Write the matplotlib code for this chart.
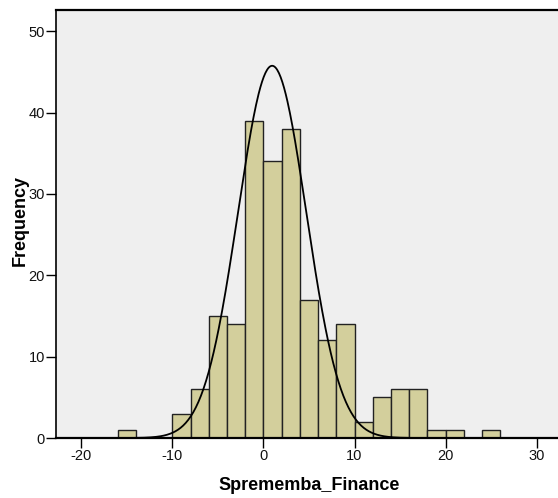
"""SPSS-style histogram of Sprememba_Finance with normal curve."""
import matplotlib

matplotlib.use("Agg")
import matplotlib.pyplot as plt
import numpy as np

plt.rcParams["font.family"] = ["Liberation Sans", "DejaVu Sans"]
plt.rcParams["axes.unicode_minus"] = False

# bin edges (width 2) and counts
bin_left = [-16, -14, -12, -10, -8, -6, -4, -2, 0, 2, 4, 6, 8, 10,
            12, 14, 16, 18, 20, 22, 24]
counts = [1, 0, 0, 3, 6, 15, 14, 39, 34, 38, 17, 12, 14, 2,
          5, 6, 6, 1, 1, 0, 1]
bin_width = 2.0

# normal curve parameters (estimated)
curve_mean = 0.95
curve_sd = 3.75

x_ticks = [-20, -10, 0, 10, 20, 30]
y_ticks = [0, 10, 20, 30, 40, 50]

BG = "#efefef"
BAR = "#d3cf9c"

fig = plt.figure(figsize=(5.58, 4.98), dpi=100)
ax = fig.add_axes([56 / 558, 60 / 498, 506 / 558, 428 / 498])
ax.set_facecolor(BG)

ax.bar(bin_left, counts, width=bin_width, align="edge", color=BAR,
       edgecolor="#222222", linewidth=1.0, zorder=2)

n_total = sum(counts)
xs = np.linspace(-22.8, 33, 600)
ys = n_total * bin_width / (curve_sd * np.sqrt(2 * np.pi)) * \
    np.exp(-0.5 * ((xs - curve_mean) / curve_sd) ** 2)
ax.plot(xs, ys, color="black", linewidth=1.3, zorder=3)

ax.set_xlim(-22.8, 32.8)
ax.set_ylim(0, 52.6)
ax.set_xticks(x_ticks)
ax.set_yticks(y_ticks)
ax.tick_params(axis="both", labelsize=10.5, color="black", width=1.0,
               length=7, colors="#111111")
ax.tick_params(axis="x", pad=1)
ax.tick_params(axis="y", pad=1)

for side in ("top", "left", "bottom"):
    ax.spines[side].set_color("black")
ax.spines["top"].set_linewidth(1.6)
ax.spines["left"].set_linewidth(1.2)
ax.spines["bottom"].set_linewidth(1.6)
ax.spines["right"].set_visible(False)

ax.set_xlabel("Sprememba_Finance", fontsize=13, fontweight="bold", labelpad=10)
ax.set_ylabel("Frequency", fontsize=13, fontweight="bold", labelpad=0)
ax.yaxis.label.set_y(0.508)

fig.savefig("out.png", dpi=100, facecolor="white")
plt.close(fig)
